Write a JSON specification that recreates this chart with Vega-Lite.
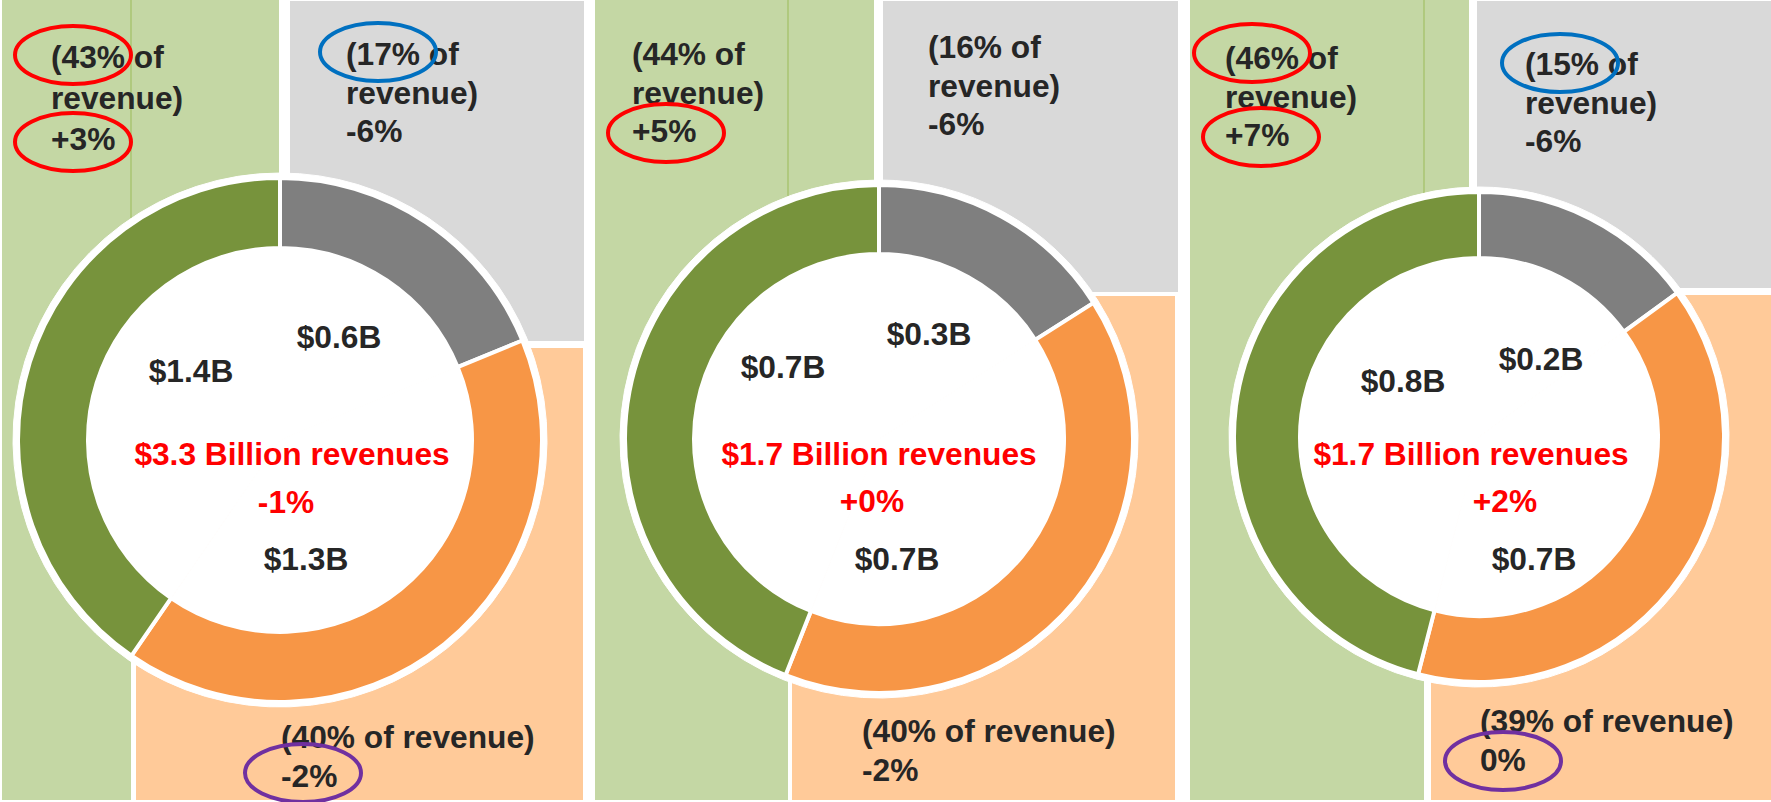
{
  "$schema": "https://vega.github.io/schema/vega-lite/v6.json",
  "width": 1771,
  "height": 802,
  "padding": 0,
  "autosize": {"type": "none"},
  "background": "white",
  "config": {
    "view": {"stroke": null},
    "axis": {"disable": true},
    "text": {"font": "Liberation Sans", "fontWeight": "bold", "fontSize": 31.7, "lineHeight": 38.5, "color": "#262626", "baseline": "alphabetic", "lineBreak": "\n"}
  },
  "datasets": {
    "seg": [
      {"panel": "A", "segment": "Gray", "seq": 1, "share": 18.8, "revenue": "$0.6B", "label": "(17% of\nrevenue)\n-6%"},
      {"panel": "A", "segment": "Orange", "seq": 2, "share": 40.8, "revenue": "$1.3B", "label": "(40% of revenue)\n-2%"},
      {"panel": "A", "segment": "Green", "seq": 3, "share": 40.4, "revenue": "$1.4B", "label": "(43% of\nrevenue)\n+3%"},
      {"panel": "B", "segment": "Gray", "seq": 1, "share": 16, "revenue": "$0.3B", "label": "(16% of\nrevenue)\n-6%"},
      {"panel": "B", "segment": "Orange", "seq": 2, "share": 40, "revenue": "$0.7B", "label": "(40% of revenue)\n-2%"},
      {"panel": "B", "segment": "Green", "seq": 3, "share": 44, "revenue": "$0.7B", "label": "(44% of\nrevenue)\n+5%"},
      {"panel": "C", "segment": "Gray", "seq": 1, "share": 15, "revenue": "$0.2B", "label": "(15% of\nrevenue)\n-6%"},
      {"panel": "C", "segment": "Orange", "seq": 2, "share": 39, "revenue": "$0.7B", "label": "(39% of revenue)\n0%"},
      {"panel": "C", "segment": "Green", "seq": 3, "share": 46, "revenue": "$0.8B", "label": "(46% of\nrevenue)\n+7%"}
    ],
    "tot": [
      {"panel": "A", "total": "$3.3 Billion revenues", "change": "-1%"},
      {"panel": "B", "total": "$1.7 Billion revenues", "change": "+0%"},
      {"panel": "C", "total": "$1.7 Billion revenues", "change": "+2%"}
    ]
  },
  "layer": [
    {"data": {"name": "seg"}, "transform": [{"filter": "datum.panel=='A'&&datum.segment=='Green'"}], "mark": "rect",
     "encoding": {"x": {"datum": 2, "type": "quantitative", "scale": {"domain": [0, 1771], "nice": false, "zero": false}}, "x2": {"datum": 131},
                  "y": {"datum": 0, "type": "quantitative", "scale": {"domain": [0, 802], "nice": false, "zero": false, "reverse": true}}, "y2": {"datum": 800},
                  "fill": {"field": "segment", "type": "nominal", "scale": {"domain": ["Green", "Gray", "Orange"], "range": ["#C4D7A4", "#D9D9D9", "#FFCA99"]}, "legend": null}}},
    {"data": {"name": "seg"}, "transform": [{"filter": "datum.panel=='A'&&datum.segment=='Green'"}], "mark": "rect",
     "encoding": {"x": {"datum": 131, "type": "quantitative"}, "x2": {"datum": 279}, "y": {"datum": 0, "type": "quantitative"}, "y2": {"datum": 348}, "fill": {"field": "segment", "type": "nominal", "legend": null}}},
    {"data": {"name": "seg"}, "transform": [{"filter": "datum.panel=='A'&&datum.segment=='Gray'"}], "mark": "rect",
     "encoding": {"x": {"datum": 290, "type": "quantitative"}, "x2": {"datum": 584}, "y": {"datum": 1, "type": "quantitative"}, "y2": {"datum": 341}, "fill": {"field": "segment", "type": "nominal", "legend": null}}},
    {"data": {"name": "seg"}, "transform": [{"filter": "datum.panel=='A'&&datum.segment=='Orange'"}], "mark": "rect",
     "encoding": {"x": {"datum": 136, "type": "quantitative"}, "x2": {"datum": 583}, "y": {"datum": 348, "type": "quantitative"}, "y2": {"datum": 800}, "fill": {"field": "segment", "type": "nominal", "legend": null}}},
    {"data": {"name": "seg"}, "transform": [{"filter": "datum.panel=='B'&&datum.segment=='Green'"}], "mark": "rect",
     "encoding": {"x": {"datum": 595, "type": "quantitative"}, "x2": {"datum": 788}, "y": {"datum": 0, "type": "quantitative"}, "y2": {"datum": 800}, "fill": {"field": "segment", "type": "nominal", "legend": null}}},
    {"data": {"name": "seg"}, "transform": [{"filter": "datum.panel=='B'&&datum.segment=='Green'"}], "mark": "rect",
     "encoding": {"x": {"datum": 788, "type": "quantitative"}, "x2": {"datum": 874}, "y": {"datum": 0, "type": "quantitative"}, "y2": {"datum": 296}, "fill": {"field": "segment", "type": "nominal", "legend": null}}},
    {"data": {"name": "seg"}, "transform": [{"filter": "datum.panel=='B'&&datum.segment=='Gray'"}], "mark": "rect",
     "encoding": {"x": {"datum": 883, "type": "quantitative"}, "x2": {"datum": 1178}, "y": {"datum": 1, "type": "quantitative"}, "y2": {"datum": 292}, "fill": {"field": "segment", "type": "nominal", "legend": null}}},
    {"data": {"name": "seg"}, "transform": [{"filter": "datum.panel=='B'&&datum.segment=='Orange'"}], "mark": "rect",
     "encoding": {"x": {"datum": 792, "type": "quantitative"}, "x2": {"datum": 1175}, "y": {"datum": 296, "type": "quantitative"}, "y2": {"datum": 800}, "fill": {"field": "segment", "type": "nominal", "legend": null}}},
    {"data": {"name": "seg"}, "transform": [{"filter": "datum.panel=='C'&&datum.segment=='Green'"}], "mark": "rect",
     "encoding": {"x": {"datum": 1190, "type": "quantitative"}, "x2": {"datum": 1424}, "y": {"datum": 0, "type": "quantitative"}, "y2": {"datum": 800}, "fill": {"field": "segment", "type": "nominal", "legend": null}}},
    {"data": {"name": "seg"}, "transform": [{"filter": "datum.panel=='C'&&datum.segment=='Green'"}], "mark": "rect",
     "encoding": {"x": {"datum": 1424, "type": "quantitative"}, "x2": {"datum": 1469}, "y": {"datum": 0, "type": "quantitative"}, "y2": {"datum": 295}, "fill": {"field": "segment", "type": "nominal", "legend": null}}},
    {"data": {"name": "seg"}, "transform": [{"filter": "datum.panel=='C'&&datum.segment=='Gray'"}], "mark": "rect",
     "encoding": {"x": {"datum": 1477, "type": "quantitative"}, "x2": {"datum": 1771}, "y": {"datum": 1, "type": "quantitative"}, "y2": {"datum": 288}, "fill": {"field": "segment", "type": "nominal", "legend": null}}},
    {"data": {"name": "seg"}, "transform": [{"filter": "datum.panel=='C'&&datum.segment=='Orange'"}], "mark": "rect",
     "encoding": {"x": {"datum": 1431, "type": "quantitative"}, "x2": {"datum": 1771}, "y": {"datum": 295, "type": "quantitative"}, "y2": {"datum": 800}, "fill": {"field": "segment", "type": "nominal", "legend": null}}},

    {"data": {"name": "seg"}, "transform": [{"filter": "datum.panel=='A'&&datum.segment=='Green'"}], "mark": {"type": "rule", "color": "#9BBB59", "strokeWidth": 1},
     "encoding": {"x": {"datum": 131, "type": "quantitative"}, "y": {"datum": 0, "type": "quantitative"}, "y2": {"datum": 218}}},
    {"data": {"name": "seg"}, "transform": [{"filter": "datum.panel=='B'&&datum.segment=='Green'"}], "mark": {"type": "rule", "color": "#9BBB59", "strokeWidth": 1},
     "encoding": {"x": {"datum": 788, "type": "quantitative"}, "y": {"datum": 0, "type": "quantitative"}, "y2": {"datum": 196}}},
    {"data": {"name": "seg"}, "transform": [{"filter": "datum.panel=='C'&&datum.segment=='Green'"}], "mark": {"type": "rule", "color": "#9BBB59", "strokeWidth": 1},
     "encoding": {"x": {"datum": 1424, "type": "quantitative"}, "y": {"datum": 0, "type": "quantitative"}, "y2": {"datum": 194}}},

    {"data": {"name": "seg"}, "transform": [{"filter": "datum.panel=='A'"}], "mark": {"type": "arc", "outerRadius": 267, "innerRadius": 0, "fill": "white", "stroke": "white", "strokeWidth": 1},
     "encoding": {"x": {"datum": 280, "type": "quantitative"}, "y": {"datum": 440, "type": "quantitative"}, "theta": {"field": "share", "type": "quantitative", "stack": true, "scale": {"domain": [0, 100]}}, "order": {"field": "seq", "type": "quantitative"}}},
    {"data": {"name": "seg"}, "transform": [{"filter": "datum.panel=='B'"}], "mark": {"type": "arc", "outerRadius": 259, "innerRadius": 0, "fill": "white", "stroke": "white", "strokeWidth": 1},
     "encoding": {"x": {"datum": 879, "type": "quantitative"}, "y": {"datum": 439, "type": "quantitative"}, "theta": {"field": "share", "type": "quantitative", "stack": true}, "order": {"field": "seq", "type": "quantitative"}}},
    {"data": {"name": "seg"}, "transform": [{"filter": "datum.panel=='C'"}], "mark": {"type": "arc", "outerRadius": 250, "innerRadius": 0, "fill": "white", "stroke": "white", "strokeWidth": 1},
     "encoding": {"x": {"datum": 1479, "type": "quantitative"}, "y": {"datum": 437, "type": "quantitative"}, "theta": {"field": "share", "type": "quantitative", "stack": true}, "order": {"field": "seq", "type": "quantitative"}}},

    {"data": {"name": "seg"}, "transform": [{"filter": "datum.panel=='A'"}], "mark": {"type": "arc", "outerRadius": 262, "innerRadius": 192, "stroke": "white", "strokeWidth": 4},
     "encoding": {"x": {"datum": 280, "type": "quantitative"}, "y": {"datum": 440, "type": "quantitative"}, "theta": {"field": "share", "type": "quantitative", "stack": true}, "order": {"field": "seq", "type": "quantitative"},
                  "color": {"field": "segment", "type": "nominal", "scale": {"domain": ["Green", "Gray", "Orange"], "range": ["#77933C", "#7F7F7F", "#F79646"]}, "legend": null}}},
    {"data": {"name": "seg"}, "transform": [{"filter": "datum.panel=='B'"}], "mark": {"type": "arc", "outerRadius": 254, "innerRadius": 185, "stroke": "white", "strokeWidth": 4},
     "encoding": {"x": {"datum": 879, "type": "quantitative"}, "y": {"datum": 439, "type": "quantitative"}, "theta": {"field": "share", "type": "quantitative", "stack": true}, "order": {"field": "seq", "type": "quantitative"},
                  "color": {"field": "segment", "type": "nominal", "legend": null}}},
    {"data": {"name": "seg"}, "transform": [{"filter": "datum.panel=='C'"}], "mark": {"type": "arc", "outerRadius": 245, "innerRadius": 179, "stroke": "white", "strokeWidth": 4},
     "encoding": {"x": {"datum": 1479, "type": "quantitative"}, "y": {"datum": 437, "type": "quantitative"}, "theta": {"field": "share", "type": "quantitative", "stack": true}, "order": {"field": "seq", "type": "quantitative"},
                  "color": {"field": "segment", "type": "nominal", "legend": null}}},

    {"data": {"name": "seg"}, "transform": [{"filter": "datum.panel=='A'&&datum.segment=='Green'"}], "mark": {"type": "text", "align": "left", "lineHeight": 41}, "encoding": {"x": {"datum": 51, "type": "quantitative"}, "y": {"datum": 68, "type": "quantitative"}, "text": {"field": "label"}}},
    {"data": {"name": "seg"}, "transform": [{"filter": "datum.panel=='A'&&datum.segment=='Gray'"}], "mark": {"type": "text", "align": "left"}, "encoding": {"x": {"datum": 346, "type": "quantitative"}, "y": {"datum": 65, "type": "quantitative"}, "text": {"field": "label"}}},
    {"data": {"name": "seg"}, "transform": [{"filter": "datum.panel=='A'&&datum.segment=='Orange'"}], "mark": {"type": "text", "align": "left"}, "encoding": {"x": {"datum": 281, "type": "quantitative"}, "y": {"datum": 748, "type": "quantitative"}, "text": {"field": "label"}}},
    {"data": {"name": "seg"}, "transform": [{"filter": "datum.panel=='B'&&datum.segment=='Green'"}], "mark": {"type": "text", "align": "left"}, "encoding": {"x": {"datum": 632, "type": "quantitative"}, "y": {"datum": 65, "type": "quantitative"}, "text": {"field": "label"}}},
    {"data": {"name": "seg"}, "transform": [{"filter": "datum.panel=='B'&&datum.segment=='Gray'"}], "mark": {"type": "text", "align": "left"}, "encoding": {"x": {"datum": 928, "type": "quantitative"}, "y": {"datum": 58, "type": "quantitative"}, "text": {"field": "label"}}},
    {"data": {"name": "seg"}, "transform": [{"filter": "datum.panel=='B'&&datum.segment=='Orange'"}], "mark": {"type": "text", "align": "left"}, "encoding": {"x": {"datum": 862, "type": "quantitative"}, "y": {"datum": 742, "type": "quantitative"}, "text": {"field": "label"}}},
    {"data": {"name": "seg"}, "transform": [{"filter": "datum.panel=='C'&&datum.segment=='Green'"}], "mark": {"type": "text", "align": "left"}, "encoding": {"x": {"datum": 1225, "type": "quantitative"}, "y": {"datum": 69, "type": "quantitative"}, "text": {"field": "label"}}},
    {"data": {"name": "seg"}, "transform": [{"filter": "datum.panel=='C'&&datum.segment=='Gray'"}], "mark": {"type": "text", "align": "left"}, "encoding": {"x": {"datum": 1525, "type": "quantitative"}, "y": {"datum": 75, "type": "quantitative"}, "text": {"field": "label"}}},
    {"data": {"name": "seg"}, "transform": [{"filter": "datum.panel=='C'&&datum.segment=='Orange'"}], "mark": {"type": "text", "align": "left"}, "encoding": {"x": {"datum": 1480, "type": "quantitative"}, "y": {"datum": 732, "type": "quantitative"}, "text": {"field": "label"}}},

    {"data": {"name": "seg"}, "transform": [{"filter": "datum.panel=='A'&&datum.segment=='Gray'"}], "mark": {"type": "text", "align": "center"}, "encoding": {"x": {"datum": 339, "type": "quantitative"}, "y": {"datum": 348, "type": "quantitative"}, "text": {"field": "revenue"}}},
    {"data": {"name": "seg"}, "transform": [{"filter": "datum.panel=='A'&&datum.segment=='Green'"}], "mark": {"type": "text", "align": "center"}, "encoding": {"x": {"datum": 191, "type": "quantitative"}, "y": {"datum": 382, "type": "quantitative"}, "text": {"field": "revenue"}}},
    {"data": {"name": "seg"}, "transform": [{"filter": "datum.panel=='A'&&datum.segment=='Orange'"}], "mark": {"type": "text", "align": "center"}, "encoding": {"x": {"datum": 306, "type": "quantitative"}, "y": {"datum": 570, "type": "quantitative"}, "text": {"field": "revenue"}}},
    {"data": {"name": "seg"}, "transform": [{"filter": "datum.panel=='B'&&datum.segment=='Gray'"}], "mark": {"type": "text", "align": "center"}, "encoding": {"x": {"datum": 929, "type": "quantitative"}, "y": {"datum": 345, "type": "quantitative"}, "text": {"field": "revenue"}}},
    {"data": {"name": "seg"}, "transform": [{"filter": "datum.panel=='B'&&datum.segment=='Green'"}], "mark": {"type": "text", "align": "center"}, "encoding": {"x": {"datum": 783, "type": "quantitative"}, "y": {"datum": 378, "type": "quantitative"}, "text": {"field": "revenue"}}},
    {"data": {"name": "seg"}, "transform": [{"filter": "datum.panel=='B'&&datum.segment=='Orange'"}], "mark": {"type": "text", "align": "center"}, "encoding": {"x": {"datum": 897, "type": "quantitative"}, "y": {"datum": 570, "type": "quantitative"}, "text": {"field": "revenue"}}},
    {"data": {"name": "seg"}, "transform": [{"filter": "datum.panel=='C'&&datum.segment=='Gray'"}], "mark": {"type": "text", "align": "center"}, "encoding": {"x": {"datum": 1541, "type": "quantitative"}, "y": {"datum": 370, "type": "quantitative"}, "text": {"field": "revenue"}}},
    {"data": {"name": "seg"}, "transform": [{"filter": "datum.panel=='C'&&datum.segment=='Green'"}], "mark": {"type": "text", "align": "center"}, "encoding": {"x": {"datum": 1403, "type": "quantitative"}, "y": {"datum": 392, "type": "quantitative"}, "text": {"field": "revenue"}}},
    {"data": {"name": "seg"}, "transform": [{"filter": "datum.panel=='C'&&datum.segment=='Orange'"}], "mark": {"type": "text", "align": "center"}, "encoding": {"x": {"datum": 1534, "type": "quantitative"}, "y": {"datum": 570, "type": "quantitative"}, "text": {"field": "revenue"}}},

    {"data": {"name": "tot"}, "transform": [{"filter": "datum.panel=='A'"}], "mark": {"type": "text", "align": "center", "color": "#FF0000"}, "encoding": {"x": {"datum": 292, "type": "quantitative"}, "y": {"datum": 465, "type": "quantitative"}, "text": {"field": "total"}}},
    {"data": {"name": "tot"}, "transform": [{"filter": "datum.panel=='A'"}], "mark": {"type": "text", "align": "center", "color": "#FF0000"}, "encoding": {"x": {"datum": 286, "type": "quantitative"}, "y": {"datum": 513, "type": "quantitative"}, "text": {"field": "change"}}},
    {"data": {"name": "tot"}, "transform": [{"filter": "datum.panel=='B'"}], "mark": {"type": "text", "align": "center", "color": "#FF0000"}, "encoding": {"x": {"datum": 879, "type": "quantitative"}, "y": {"datum": 465, "type": "quantitative"}, "text": {"field": "total"}}},
    {"data": {"name": "tot"}, "transform": [{"filter": "datum.panel=='B'"}], "mark": {"type": "text", "align": "center", "color": "#FF0000"}, "encoding": {"x": {"datum": 872, "type": "quantitative"}, "y": {"datum": 512, "type": "quantitative"}, "text": {"field": "change"}}},
    {"data": {"name": "tot"}, "transform": [{"filter": "datum.panel=='C'"}], "mark": {"type": "text", "align": "center", "color": "#FF0000"}, "encoding": {"x": {"datum": 1471, "type": "quantitative"}, "y": {"datum": 465, "type": "quantitative"}, "text": {"field": "total"}}},
    {"data": {"name": "tot"}, "transform": [{"filter": "datum.panel=='C'"}], "mark": {"type": "text", "align": "center", "color": "#FF0000"}, "encoding": {"x": {"datum": 1505, "type": "quantitative"}, "y": {"datum": 512, "type": "quantitative"}, "text": {"field": "change"}}},

    {"data": {"name": "seg"}, "transform": [{"filter": "datum.panel=='A'&&datum.segment=='Green'"}], "mark": {"type": "point", "shape": "M-1,0A1,0.5,0,1,1,1,0A1,0.5,0,1,1,-1,0Z", "size": 13456, "filled": false, "strokeWidth": 4, "color": "#FF0000", "opacity": 1},
     "encoding": {"x": {"datum": 73, "type": "quantitative"}, "y": {"datum": 55, "type": "quantitative"}}},
    {"data": {"name": "seg"}, "transform": [{"filter": "datum.panel=='A'&&datum.segment=='Green'"}], "mark": {"type": "point", "shape": "M-1,0A1,0.5,0,1,1,1,0A1,0.5,0,1,1,-1,0Z", "size": 13456, "filled": false, "strokeWidth": 4, "color": "#FF0000", "opacity": 1},
     "encoding": {"x": {"datum": 73, "type": "quantitative"}, "y": {"datum": 142, "type": "quantitative"}}},
    {"data": {"name": "seg"}, "transform": [{"filter": "datum.panel=='A'&&datum.segment=='Gray'"}], "mark": {"type": "point", "shape": "M-1,0A1,0.5,0,1,1,1,0A1,0.5,0,1,1,-1,0Z", "size": 13456, "filled": false, "strokeWidth": 4, "color": "#0070C0", "opacity": 1},
     "encoding": {"x": {"datum": 378, "type": "quantitative"}, "y": {"datum": 52, "type": "quantitative"}}},
    {"data": {"name": "seg"}, "transform": [{"filter": "datum.panel=='A'&&datum.segment=='Orange'"}], "mark": {"type": "point", "shape": "M-1,0A1,0.5,0,1,1,1,0A1,0.5,0,1,1,-1,0Z", "size": 13456, "filled": false, "strokeWidth": 4, "color": "#7030A0", "opacity": 1},
     "encoding": {"x": {"datum": 303, "type": "quantitative"}, "y": {"datum": 773, "type": "quantitative"}}},
    {"data": {"name": "seg"}, "transform": [{"filter": "datum.panel=='B'&&datum.segment=='Green'"}], "mark": {"type": "point", "shape": "M-1,0A1,0.5,0,1,1,1,0A1,0.5,0,1,1,-1,0Z", "size": 13456, "filled": false, "strokeWidth": 4, "color": "#FF0000", "opacity": 1},
     "encoding": {"x": {"datum": 666, "type": "quantitative"}, "y": {"datum": 133, "type": "quantitative"}}},
    {"data": {"name": "seg"}, "transform": [{"filter": "datum.panel=='C'&&datum.segment=='Green'"}], "mark": {"type": "point", "shape": "M-1,0A1,0.5,0,1,1,1,0A1,0.5,0,1,1,-1,0Z", "size": 13456, "filled": false, "strokeWidth": 4, "color": "#FF0000", "opacity": 1},
     "encoding": {"x": {"datum": 1252, "type": "quantitative"}, "y": {"datum": 53, "type": "quantitative"}}},
    {"data": {"name": "seg"}, "transform": [{"filter": "datum.panel=='C'&&datum.segment=='Green'"}], "mark": {"type": "point", "shape": "M-1,0A1,0.5,0,1,1,1,0A1,0.5,0,1,1,-1,0Z", "size": 13456, "filled": false, "strokeWidth": 4, "color": "#FF0000", "opacity": 1},
     "encoding": {"x": {"datum": 1261, "type": "quantitative"}, "y": {"datum": 137, "type": "quantitative"}}},
    {"data": {"name": "seg"}, "transform": [{"filter": "datum.panel=='C'&&datum.segment=='Gray'"}], "mark": {"type": "point", "shape": "M-1,0A1,0.5,0,1,1,1,0A1,0.5,0,1,1,-1,0Z", "size": 13456, "filled": false, "strokeWidth": 4, "color": "#0070C0", "opacity": 1},
     "encoding": {"x": {"datum": 1560, "type": "quantitative"}, "y": {"datum": 63, "type": "quantitative"}}},
    {"data": {"name": "seg"}, "transform": [{"filter": "datum.panel=='C'&&datum.segment=='Orange'"}], "mark": {"type": "point", "shape": "M-1,0A1,0.5,0,1,1,1,0A1,0.5,0,1,1,-1,0Z", "size": 13456, "filled": false, "strokeWidth": 4, "color": "#7030A0", "opacity": 1},
     "encoding": {"x": {"datum": 1503, "type": "quantitative"}, "y": {"datum": 761, "type": "quantitative"}}}
  ]
}
